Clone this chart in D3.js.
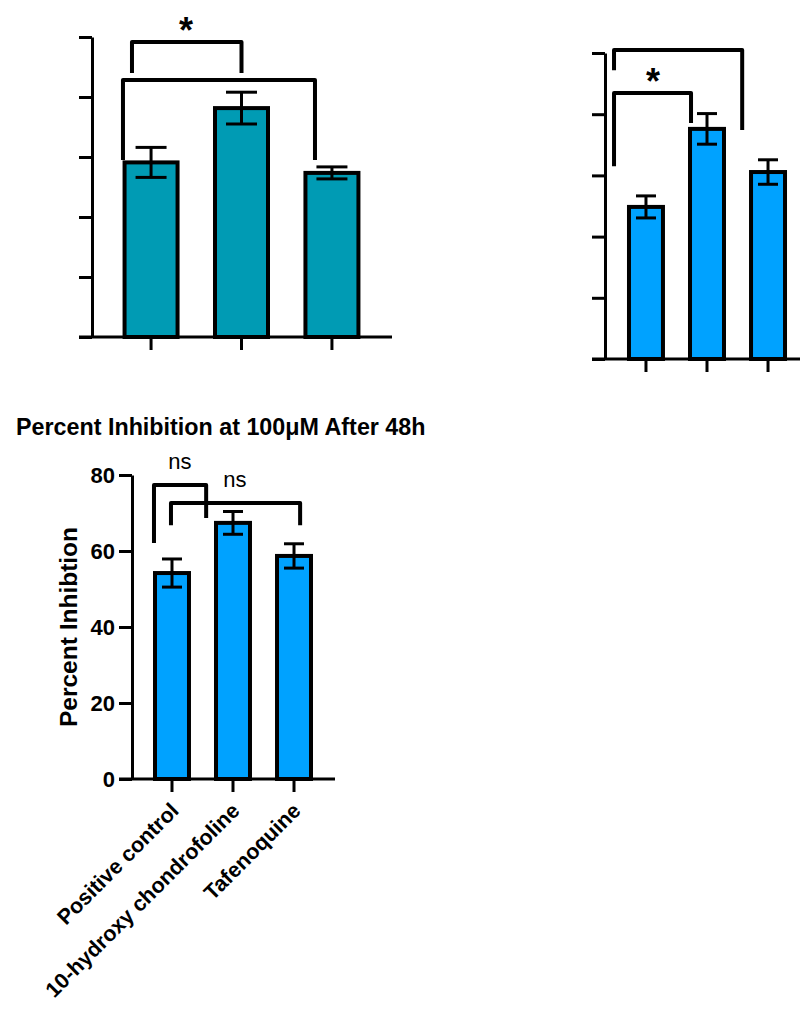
<!DOCTYPE html>
<html>
<head>
<meta charset="utf-8">
<script src="https://cdn.jsdelivr.net/npm/d3@7"></script>
<style>
  html, body { margin: 0; padding: 0; background: #fff; }
  svg { display: block; font-family: "Liberation Sans", Arial, Helvetica, sans-serif; }
</style>
</head>
<body>
<svg id="chart" width="800" height="1010"></svg>
<script>
// ---- data ----
const categories = ["Positive control", "10-hydroxy chondrofoline", "Tafenoquine"];
const panelAMeans = [58.2, 76.3, 54.7];
const panelAErrors = [5.0, 5.3, 2.0];
const panelBMeans = [49.7, 75.2, 61.1];
const panelBErrors = [3.6, 5.0, 4.0];
const panelCMeans = [54.2, 67.4, 58.7];
const panelCErrors = [3.7, 3.0, 3.2];
const panelCTicks = [0, 20, 40, 60, 80];
const unlabeledTicks = [0, 20, 40, 60, 80, 100];
const panelCTitle = "Percent Inhibition at 100\u03BCM After 48h";
const panelCYLabel = "Percent Inhibtion";
const panelASig = ["*", ""];
const panelBSig = ["", "*"];
const panelCSig = ["ns", "ns"];

// ---- layout ----
const svg = d3.select("#chart");

function drawPanel(cfg) {
  const g = svg.append("g");
  const x = d3.scaleBand().domain(categories)
    .range([cfg.axisX, cfg.xEnd])
    .paddingInner(cfg.pi).paddingOuter(cfg.po);
  const y = d3.scaleLinear().domain(cfg.domain).range([cfg.y0, cfg.y1]);
  const bw = x.bandwidth();
  const rows = categories.map((c, i) => ({c, m: cfg.means[i], e: cfg.errors[i]}));

  // bars
  g.selectAll("rect.bar").data(rows).join("rect")
    .attr("x", d => x(d.c)).attr("width", bw)
    .attr("y", d => y(d.m)).attr("height", d => y(0) - y(d.m))
    .attr("fill", cfg.color).attr("stroke", "#000").attr("stroke-width", 4);

  // error bars
  const eb = g.selectAll("g.eb").data(rows).join("g");
  eb.append("line")
    .attr("x1", d => x(d.c) + bw / 2).attr("x2", d => x(d.c) + bw / 2)
    .attr("y1", d => y(d.m + d.e)).attr("y2", d => y(d.m - d.e))
    .attr("stroke", "#000").attr("stroke-width", 3);
  [1, -1].forEach(s => {
    eb.append("line")
      .attr("x1", d => x(d.c) + bw / 2 - cfg.cap / 2).attr("x2", d => x(d.c) + bw / 2 + cfg.cap / 2)
      .attr("y1", d => y(d.m + s * d.e)).attr("y2", d => y(d.m + s * d.e))
      .attr("stroke", "#000").attr("stroke-width", 3);
  });

  // y axis
  const ya = d3.axisLeft(y).tickValues(cfg.ticks).tickSize(13).tickSizeOuter(0).tickPadding(4)
    .tickFormat(cfg.labels ? d3.format("d") : () => "");
  const yg = g.append("g").attr("transform", `translate(${cfg.axisX},0)`).call(ya);
  yg.select(".domain").attr("stroke", "#000").attr("stroke-width", 3);
  yg.selectAll(".tick line").attr("stroke", "#000").attr("stroke-width", 3);
  yg.selectAll(".tick text").attr("fill", "#000")
    .style("font-size", "22px").style("font-weight", "bold").style("font-family", "Liberation Sans, Arial, sans-serif");

  // x axis
  const xa = d3.axisBottom(x).tickSize(13).tickSizeOuter(0)
    .tickFormat(cfg.labels ? (d => d) : () => "");
  const xg = g.append("g").attr("transform", `translate(0,${cfg.y0})`).call(xa);
  xg.select(".domain").remove();
  xg.append("line").attr("x1", cfg.axisX - 13).attr("x2", cfg.lineEnd)
    .attr("y1", 0).attr("y2", 0).attr("stroke", "#000").attr("stroke-width", 3);
  xg.selectAll(".tick line").attr("stroke", "#000").attr("stroke-width", 3);
  xg.selectAll(".tick text").attr("fill", "#000")
    .attr("x", 0).attr("y", 0).attr("dy", 0)
    .attr("transform", "translate(8,33) rotate(-45)")
    .attr("text-anchor", "end")
    .style("font-size", "21.5px").style("font-weight", "bold").style("font-family", "Liberation Sans, Arial, sans-serif");

  // significance brackets
  cfg.brackets.forEach((b, k) => {
    const xa1 = x(categories[b.a]) + b.fa * bw;
    const xb1 = x(categories[b.b]) + b.fb * bw;
    const p = d3.path();
    p.moveTo(xa1, y(b.la)); p.lineTo(xa1, y(b.top)); p.lineTo(xb1, y(b.top)); p.lineTo(xb1, y(b.lb));
    g.append("path").attr("d", p.toString()).attr("fill", "none")
      .attr("stroke", "#000").attr("stroke-width", 4).attr("stroke-linejoin", "round");
    const lab = cfg.sig[k];
    if (lab) {
      g.append("text").attr("x", xa1 + b.tx).attr("y", y(b.top) + b.ty)
        .attr("text-anchor", "middle")
        .style("font-size", lab === "*" ? "36px" : "22px")
        .style("font-weight", lab === "*" ? "bold" : "normal")
        .text(lab);
    }
  });
  return {x, y};
}

// Panel A (teal)
drawPanel({
  axisX: 92, xEnd: 391, pi: 0.414, po: 0.36, y0: 337, y1: 37, domain: [0, 100],
  means: panelAMeans, errors: panelAErrors, color: "#009bb4", cap: 31,
  ticks: unlabeledTicks, labels: false, lineEnd: 392, sig: panelASig,
  brackets: [
    {a: 0, fa: 0.14, b: 1, fb: 0.5, top: 98.3, la: 88, lb: 88, tx: 54, ty: 1},
    {a: 0, fa: -0.03, b: 2, fb: 0.18, top: 85.7, la: 59, lb: 59, tx: 0, ty: 0}
  ]
});

// Panel B (blue, cut at right)
drawPanel({
  axisX: 605, xEnd: 809, pi: 0.443, po: 0.393, y0: 359, y1: 53, domain: [0, 100],
  means: panelBMeans, errors: panelBErrors, color: "#00a2ff", cap: 20,
  ticks: unlabeledTicks, labels: false, lineEnd: 810, sig: panelBSig,
  brackets: [
    {a: 0, fa: -0.44, b: 2, fb: -0.26, top: 101, la: 94.4, lb: 74.8, tx: 0, ty: 0},
    {a: 0, fa: -0.44, b: 1, fb: 0.03, top: 86.9, la: 63, lb: 77.1, tx: 39, ty: 1}
  ]
});

// Panel C (labelled)
drawPanel({
  axisX: 132, xEnd: 334, pi: 0.443, po: 0.377, y0: 779, y1: 475, domain: [0, 80],
  means: panelCMeans, errors: panelCErrors, color: "#00a2ff", cap: 20,
  ticks: panelCTicks, labels: true, lineEnd: 335, sig: panelCSig,
  brackets: [
    {a: 0, fa: -0.03, b: 1, fb: -0.29, top: 77.4, la: 62.1, lb: 68.7, tx: 26, ty: -16},
    {a: 0, fa: 0.47, b: 2, fb: 0.68, top: 72.6, la: 66.8, lb: 66.8, tx: 64, ty: -16}
  ]
});

svg.append("text").attr("x", 16).attr("y", 435)
  .style("font-size", "23.3px").style("font-weight", "bold").text(panelCTitle);

svg.append("text").attr("transform", "translate(77,627) rotate(-90)")
  .attr("text-anchor", "middle")
  .style("font-size", "24.5px").style("font-weight", "bold").text(panelCYLabel);
</script>
</body>
</html>
